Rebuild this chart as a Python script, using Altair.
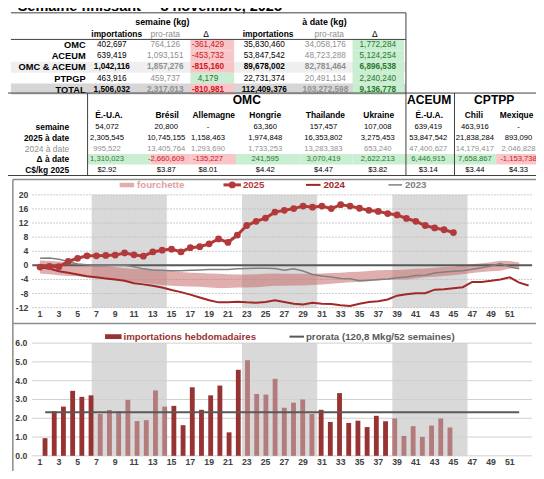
import altair as alt
import pandas as pd

# ---------------- values ----------------
title_left = "Semaine finissant"
title_right = "8 novembre, 2025"

t1_rows = ["OMC", "ACEUM", "OMC & ACEUM", "PTPGP", "TOTAL"]
t1_sem_imp = [402697, 639419, 1042116, 463916, 1506032]
t1_sem_pro = [764126, 1093151, 1857276, 459737, 2317013]
t1_sem_delta = [-361429, -453732, -815160, 4179, -810981]
t1_date_imp = [35830460, 53847542, 89678002, 22731374, 112409376]
t1_date_pro = [34058176, 48723288, 82781464, 20491134, 103272598]
t1_date_delta = [1772284, 5124254, 6896538, 2240240, 9136778]
t1_bold_rows = ["OMC & ACEUM", "TOTAL"]
t1_heads = ["importations", "pro-rata", "Δ"]
t1_groups = ["semaine (kg)", "à date (kg)"]

t2_groups = ["OMC", "ACEUM", "CPTPP"]
t2_countries = ["É.-U.A.", "Brésil", "Allemagne", "Hongrie", "Thailande", "Ukraine",
                "É.-U.A.", "Chili", "Mexique"]
t2_semaine = [54072, 20800, None, 63360, 157457, 107008, 639419, 463916, None]
t2_2025 = [2305545, 10745155, 1158463, 1974848, 16353802, 3275453, 53847542, 21838284, 893090]
t2_2024 = [995522, 13405764, 1293690, 1733253, 13283383, 653240, 47400627, 14179417, 2046828]
t2_delta = [1310023, -2660609, -135227, 241595, 3070419, 2622213, 6446915, 7658867, -1153738]
t2_price = [2.92, 3.87, 8.01, 4.42, 4.47, 3.82, 3.14, 3.44, 4.33]
t2_row_labels = ["semaine", "2025 à date", "2024 à date", "Δ à date", "C$/kg 2025"]

# cumulative gap (Mkg), by week
cum_2025 = [-0.5, -0.3, -0.4, 1.1, 2.0, 2.7, 2.7, 2.8, 2.9, 3.5, 3.0, 2.6, 3.8, 4.3, 4.6, 3.8,
            5.0, 5.3, 6.1, 7.5, 6.5, 8.6, 11.3, 12.5, 13.4, 15.1, 15.6, 16.1, 16.8, 16.5, 16.8,
            16.1, 17.2, 16.8, 16.2, 15.6, 15.3, 14.7, 14.3, 13.3, 12.5, 11.3, 10.6, 10.1, 9.3]
cum_2024 = [-0.6, -0.9, -1.7, -2.1, -2.6, -3.1, -3.4, -3.7, -4.0, -4.4, -5.1, -5.4, -5.8, -6.3,
            -7.0, -7.6, -8.3, -9.1, -9.9, -10.5, -10.5, -10.3, -10.5, -10.6, -10.4, -9.9, -10.4,
            -10.9, -11.1, -10.6, -10.9, -11.0, -11.3, -11.5, -10.9, -10.4, -10.2, -9.7, -8.6,
            -8.2, -7.9, -7.9, -6.9, -6.8, -6.5, -6.2, -4.7, -4.7, -4.4, -4.0, -3.4, -4.9, -5.7]
cum_2023 = [2.0, 2.1, 1.7, 1.1, 0.4, 0.2, -0.1, 0.0, 0.0, 0.0, -0.4, -1.0, -1.3, -1.4, -1.5,
            -1.5, -1.4, -1.3, -1.2, -1.2, -1.2, -1.0, -0.9, -0.8, -0.8, -0.9, -1.4, -1.0, -1.6,
            -2.6, -3.0, -3.3, -3.7, -3.8, -4.4, -4.2, -4.0, -3.9, -3.5, -3.3, -2.9, -2.8, -2.2,
            -1.9, -1.7, -1.5, -1.1, -0.7, -0.2, 0.5, -0.4, -1.0]
range_hi = [1.4, 1.2, 1.1, 0.8, 0.5, 0.3, 0.1, -0.2, -0.5, -0.8, -1.0, -1.1, -1.2, -1.3, -1.6,
            -1.9, -2.1, -2.2, -2.3, -2.4, -2.5, -2.6, -2.6, -2.5, -2.4, -2.3, -2.4, -2.4, -2.4,
            -2.4, -2.3, -2.2, -2.1, -1.9, -1.8, -1.6, -1.4, -1.3, -1.3, -1.2, -1.0, -0.9, -0.7,
            -0.5, -0.4, 0.0, 0.3, 0.6, 0.9, 1.3, 1.2, 0.8]
range_lo = [-2.3, -2.5, -2.8, -3.0, -3.1, -3.4, -3.7, -3.9, -4.1, -4.4, -4.7, -5.0, -5.3, -5.6,
            -5.8, -5.9, -6.0, -6.1, -6.3, -6.4, -6.4, -6.3, -6.3, -6.2, -6.0, -5.8, -5.8, -5.7,
            -5.7, -5.6, -5.4, -5.2, -5.0, -4.8, -4.7, -4.5, -4.3, -4.1, -4.0, -4.0, -3.7, -3.4,
            -3.2, -3.0, -2.8, -2.5, -2.2, -1.9, -1.7, -1.5, -0.9, -0.8]
weekly_2025 = [0.94, 2.37, 2.62, 3.46, 3.14, 3.22, 2.23, 2.44, 2.37, 2.98, 1.85, 1.90, 3.48,
               2.62, 2.66, 1.63, 3.65, 2.45, 3.22, 3.74, 1.25, 4.58, 5.09, 3.29, 3.26, 4.10,
               2.56, 2.83, 3.00, 2.23, 2.45, 1.80, 3.34, 1.75, 1.87, 1.53, 2.13, 1.84, 1.99,
               1.06, 1.58, 1.01, 1.61, 1.99, 1.51]
shade_from = [7, 23, 39]
shade_to = [14, 30, 46]
prorata_total_mkg = 120.8
prorata_weeks = 52
line_ticks = [-12, -8, -4, 0, 4, 8, 12, 16, 20]
bar_ticks = [0, 1, 2, 3, 4, 5, 6]
week_labels = list(range(1, 52, 2))
legend_top = ["fourchette", "2025", "2024", "2023"]
legend_bottom = ["importations hebdomadaires", "prorata (120,8 Mkg/52 semaines)"]

# ---------------- layout (reference pixel space) ----------------
SX = 528 / 544
SY = 463 / 479
SF = SY
FONT = "Liberation Sans"
WX0, WDX = 33.0, 9.68
LY_LO, LY_HI = 310.0, 193.3
BY_LO, BY_HI = 463.3, 346.7
VAL_FS = 7.9      # table 2 numbers (condensed look in the original)
VAL1_FS = 8.5     # table 1 numbers
HEAD_FS = 8.7

RED_TXT, GRN_TXT = "#d01818", "#2b7a2b"
RED_BG, GRN_BG = "#f8c5c8", "#c9eed1"
GREY_TXT = "#8f8f8f"
C25, C24, C23 = "#b33a3a", "#a02828", "#808080"
BAR_DARK, BAR_LIGHT = "#973333", "#b37b7b"
BAND = "#c96b6b"
SHADE = "#d9d9d9"
AXIS_TXT = "#404040"


def px():
    return alt.Scale(domain=[0, 544], range=[0, 544 * SX], nice=False, zero=False)


def py():
    return alt.Scale(domain=[0, 479], range=[0, 479 * SY], nice=False, zero=False)


def pw():
    return alt.Scale(domain=[1, 53], range=[WX0 * SX, (WX0 + 52 * WDX) * SX], nice=False, zero=False)


def pl():
    return alt.Scale(domain=[-12, 20], range=[LY_LO * SY, LY_HI * SY], nice=False, zero=False)


def pb():
    return alt.Scale(domain=[0, 6], range=[BY_LO * SY, BY_HI * SY], nice=False, zero=False)


def text_layers(recs, xs, ys, font=FONT):
    out = []
    df = pd.DataFrame(recs)
    for (b, a), g in df.groupby(["b", "a"]):
        out.append(alt.Chart(g).mark_text(font=font, fontWeight="bold" if b else "normal",
                                          align=a, baseline="middle").encode(
            x=alt.X("x:Q", scale=xs(), axis=None),
            y=alt.Y("y:Q", scale=ys(), axis=None),
            text=alt.Text("t:N"),
            color=alt.Color("c:N", scale=None),
            size=alt.Size("s:Q", scale=None)))
    return out


def rect_layer(recs, xs, ys, opacity=1.0):
    return alt.Chart(pd.DataFrame(recs)).mark_rect(opacity=opacity).encode(
        x=alt.X("x:Q", scale=xs(), axis=None), x2="x2:Q",
        y=alt.Y("y:Q", scale=ys(), axis=None), y2="y2:Q",
        color=alt.Color("c:N", scale=None))


def rule_layer(recs, xs, ys, dash=None):
    kw = {} if dash is None else {"strokeDash": dash}
    return alt.Chart(pd.DataFrame(recs)).mark_rule(**kw).encode(
        x=alt.X("x:Q", scale=xs(), axis=None), x2="x2:Q",
        y=alt.Y("y:Q", scale=ys(), axis=None), y2="y2:Q",
        color=alt.Color("c:N", scale=None),
        size=alt.Size("w:Q", scale=None))


def T(x, y, t, c="#000000", s=VAL_FS, b=False, a="center"):
    return {"x": x, "y": y, "t": t, "c": c, "s": s * SF, "b": b, "a": a}


fmt = lambda v: "-" if v is None else f"{v:,}"
layers = []

# ================= table 1 =================
T1_ROW_Y = [38.5, 50, 61.5, 73, 84.5]
T1_EDGES = [32.5, 44, 55.5, 67, 78, 89.5]
T1_VAL_X = [107, 162, 206, 264, 327, 381]
T1_HEAD_X = [112, 162, 204, 268, 331, 378]
T1_GROUP_X = [159, 326]

bg = [{"x": 3, "x2": 410, "y": T1_EDGES[2], "y2": T1_EDGES[3], "c": "#efefef"},
      {"x": 3, "x2": 410, "y": T1_EDGES[4], "y2": T1_EDGES[5], "c": "#d6d6d6"}]
for i, r in enumerate(t1_rows):
    bg.append({"x": 188, "x2": 233, "y": T1_EDGES[i], "y2": T1_EDGES[i + 1],
               "c": RED_BG if t1_sem_delta[i] < 0 else GRN_BG})
    bg.append({"x": 355, "x2": 408, "y": T1_EDGES[i], "y2": T1_EDGES[i + 1],
               "c": RED_BG if t1_date_delta[i] < 0 else GRN_BG})
# ================= table 2 backgrounds =================
T2_EDGES = [82, 147, 188, 235, 300, 355, 410, 460, 503, 544]
for j, d in enumerate(t2_delta):
    bg.append({"x": T2_EDGES[j], "x2": T2_EDGES[j + 1], "y": 151, "y2": 162,
               "c": RED_BG if d < 0 else GRN_BG})
layers.append(rect_layer(bg, px, py))

tx = []
tx.append(T(10, -1.5, title_left, s=15, b=True, a="left"))
tx.append(T(157, -1.5, title_right, s=15, b=True, a="left"))
for gx, g in zip(T1_GROUP_X, t1_groups):
    tx.append(T(gx, 15, g, s=9.2, b=True))
for k in range(2):
    for h, hx in zip(t1_heads, T1_HEAD_X[3 * k:3 * k + 3]):
        tx.append(T(hx, 27, h, c=GREY_TXT if h == "pro-rata" else "#000000", s=HEAD_FS,
                    b=(h == "importations")))
for i, r in enumerate(t1_rows):
    y = T1_ROW_Y[i]
    bold = r in t1_bold_rows
    tx.append(T(80, y, r, s=9.6, b=True, a="right"))
    vals = [t1_sem_imp[i], t1_sem_pro[i], t1_sem_delta[i],
            t1_date_imp[i], t1_date_pro[i], t1_date_delta[i]]
    for k, v in enumerate(vals):
        if k in (1, 4):
            c = GREY_TXT
        elif k in (2, 5):
            c = RED_TXT if v < 0 else GRN_TXT
        else:
            c = "#000000"
        tx.append(T(T1_VAL_X[k], y, fmt(v), c=c, s=VAL1_FS, b=bold))

# ================= table 2 texts =================
T2_GROUP_X = [246, 434, 501]
T2_HEAD_X = [104, 164, 212, 265, 327, 382, 434, 480, 524]
T2_VAL_X = [102, 163, 206, 265, 325, 381, 433, 481, 526]
T2_ROW_Y = [123, 134.3, 145.5, 156.7, 167.8]
for gx, g in zip(T2_GROUP_X, t2_groups):
    tx.append(T(gx, 95.5, g, s=12.5, b=True))
for hx, ctry in zip(T2_HEAD_X, t2_countries):
    tx.append(T(hx, 111, ctry, s=HEAD_FS, b=True))
for i, lab in enumerate(t2_row_labels):
    grey = lab.startswith("2024")
    tx.append(T(63, T2_ROW_Y[i], lab, c=GREY_TXT if grey else "#000000", s=HEAD_FS,
                b=not grey, a="right"))
for j in range(len(t2_countries)):
    tx.append(T(T2_VAL_X[j], T2_ROW_Y[0], fmt(t2_semaine[j])))
    tx.append(T(T2_VAL_X[j], T2_ROW_Y[1], fmt(t2_2025[j])))
    tx.append(T(T2_VAL_X[j], T2_ROW_Y[2], fmt(t2_2024[j]), c=GREY_TXT))
    tx.append(T(T2_VAL_X[j], T2_ROW_Y[3], fmt(t2_delta[j]),
                c=RED_TXT if t2_delta[j] < 0 else GRN_TXT))
    tx.append(T(T2_VAL_X[j], T2_ROW_Y[4], f"${t2_price[j]:.2f}"))
layers += text_layers(tx, px, py)

# table / frame rules
rl = [
    {"x": 3, "x2": 410, "y": 5, "y2": 5, "c": "#404040", "w": 1},
    {"x": 3, "x2": 410, "y": 32.5, "y2": 32.5, "c": "#404040", "w": 1},
    {"x": 410, "x2": 410, "y": 5, "y2": 88, "c": "#404040", "w": 1},
    {"x": 0, "x2": 544, "y": 88, "y2": 88, "c": "#404040", "w": 1},
    {"x": 0, "x2": 544, "y": 173.3, "y2": 173.3, "c": "#404040", "w": 1},
    {"x": 82, "x2": 82, "y": 88, "y2": 173.3, "c": "#404040", "w": 1},
    {"x": 410, "x2": 410, "y": 88, "y2": 173.3, "c": "#404040", "w": 1},
    {"x": 460, "x2": 460, "y": 88, "y2": 173.3, "c": "#404040", "w": 1},
    {"x": 5, "x2": 544, "y": 177.3, "y2": 177.3, "c": "#8c8c8c", "w": 1.5},
    {"x": 5, "x2": 5, "y": 177.3, "y2": 479, "c": "#8c8c8c", "w": 1.5},
    {"x": 5, "x2": 544, "y": 326.5, "y2": 326.5, "c": "#8c8c8c", "w": 1.5},
]
layers.append(rule_layer(rl, px, py))

# ================= cumulative line chart =================
shade_l = [{"x": a - 0.5, "x2": b + 0.5, "y": -12, "y2": 20, "c": SHADE}
           for a, b in zip(shade_from, shade_to)]
layers.append(rect_layer(shade_l, pw, pl))
grid_l = [{"x": 25, "x2": 540, "y": t, "y2": t, "c": "#bdbdbd", "w": 1}
          for t in line_ticks if t != 0]
layers.append(rule_layer(grid_l, px, pl, dash=[1.5, 1.5]))

band_df = pd.DataFrame({"week": list(range(1, len(range_hi) + 1)), "hi": range_hi, "lo": range_lo})
layers.append(alt.Chart(band_df).mark_area(color=BAND, opacity=0.55).encode(
    x=alt.X("week:Q", scale=pw(), axis=None),
    y=alt.Y("hi:Q", scale=pl(), axis=None), y2="lo:Q"))
layers.append(rule_layer([{"x": 25, "x2": 540, "y": 0, "y2": 0, "c": "#595959", "w": 2}], px, pl))


def line_layer(vals, color, width):
    df = pd.DataFrame({"week": list(range(1, len(vals) + 1)), "v": vals})
    return alt.Chart(df).mark_line(color=color, strokeWidth=width).encode(
        x=alt.X("week:Q", scale=pw(), axis=None),
        y=alt.Y("v:Q", scale=pl(), axis=None))


layers.append(line_layer(cum_2023, C23, 1.5))
layers.append(line_layer(cum_2024, C24, 2))
layers.append(line_layer(cum_2025, C25, 3))
pts = pd.DataFrame({"week": list(range(1, len(cum_2025) + 1)), "v": cum_2025})
layers.append(alt.Chart(pts).mark_circle(color=C25, opacity=1, size=46).encode(
    x=alt.X("week:Q", scale=pw(), axis=None),
    y=alt.Y("v:Q", scale=pl(), axis=None)))

# ================= weekly bar chart =================
shade_b = [{"x": a - 0.5, "x2": b + 0.5, "y": 0, "y2": 6, "c": SHADE}
           for a, b in zip(shade_from, shade_to)]
layers.append(rect_layer(shade_b, pw, pb))
grid_b = [{"x": 25, "x2": 540, "y": t, "y2": t, "c": "#d0d0d0", "w": 1} for t in bar_ticks]
layers.append(rule_layer(grid_b, px, pb))


def shaded(w):
    return any(a <= w <= b for a, b in zip(shade_from, shade_to))


bars = pd.DataFrame({"week": list(range(1, len(weekly_2025) + 1)), "v": weekly_2025})
bars["c"] = [BAR_LIGHT if shaded(w) else BAR_DARK for w in bars["week"]]
layers.append(alt.Chart(bars).mark_bar(size=5 * SX).encode(
    x=alt.X("week:Q", scale=pw(), axis=None),
    y=alt.Y("v:Q", scale=pb(), axis=None),
    color=alt.Color("c:N", scale=None)))
prorata = prorata_total_mkg / prorata_weeks
layers.append(rule_layer([{"x": 1.55, "x2": 52, "y": prorata, "y2": prorata,
                           "c": "#595959", "w": 2}], pw, pb))

# ================= axis labels =================
layers += text_layers([T(21, t, str(t), c=AXIS_TXT, s=9, b=True, a="right") for t in line_ticks],
                      px, pl)
layers += text_layers([T(20, t, f"{t:.1f}", c=AXIS_TXT, s=9, b=True, a="right") for t in bar_ticks],
                      px, pb)
xl = [T(w, 317, str(w), c=AXIS_TXT, s=9, b=True) for w in week_labels]
xl += [T(w, 470, str(w), c=AXIS_TXT, s=9, b=True) for w in week_labels]
layers += text_layers(xl, pw, py)

# ================= legends =================
leg_rects = [{"x": 115, "x2": 130, "y": 180.8, "y2": 185.5, "c": "#e1aeae"},
             {"x": 100, "x2": 117, "y": 337.5, "y2": 342.5, "c": BAR_DARK}]
layers.append(rect_layer(leg_rects, px, py))
leg_rules = [{"x": 222, "x2": 240, "y": 183, "y2": 183, "c": C25, "w": 3},
             {"x": 307, "x2": 322, "y": 183, "y2": 183, "c": C24, "w": 2},
             {"x": 392, "x2": 406, "y": 183, "y2": 183, "c": C23, "w": 1.5},
             {"x": 290, "x2": 305, "y": 340, "y2": 340, "c": "#595959", "w": 2}]
layers.append(rule_layer(leg_rules, px, py))
layers.append(alt.Chart(pd.DataFrame({"x": [231], "y": [183]})).mark_circle(
    color=C25, opacity=1, size=46).encode(
    x=alt.X("x:Q", scale=px(), axis=None), y=alt.Y("y:Q", scale=py(), axis=None)))
lt = [T(133, 183, legend_top[0], c="#e0a0a0", s=10, b=True, a="left"),
      T(242, 183, legend_top[1], c=C25, s=10, b=True, a="left"),
      T(325, 183, legend_top[2], c=C24, s=10, b=True, a="left"),
      T(409, 183, legend_top[3], c=C23, s=10, b=True, a="left"),
      T(119, 340, legend_bottom[0], c=BAR_DARK, s=10, b=True, a="left"),
      T(307, 340, legend_bottom[1], c="#595959", s=10, b=True, a="left")]
layers += text_layers(lt, px, py)

chart = alt.layer(*layers).resolve_scale(x="independent", y="independent").properties(
    width=528, height=463, autosize=alt.AutoSizeParams(type="none"), padding=0
).configure_view(stroke=None)

chart.save("out.html", embed_options={"renderer": "svg", "actions": False})
